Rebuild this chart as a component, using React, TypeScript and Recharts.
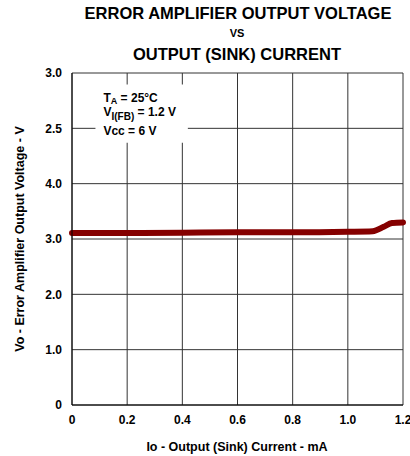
import { LineChart, Line, XAxis, YAxis, CartesianGrid, ReferenceArea } from 'recharts';

// x: output (sink) current, mA
const currentMa = [0, 0.2, 0.4, 0.6, 0.8, 1.0, 1.09, 1.13, 1.16, 1.2];
// y: position on the voltage axis (grid rows as printed)
const outputVolt = [3.11, 3.11, 3.115, 3.12, 3.12, 3.13, 3.14, 3.22, 3.29, 3.3];

const xTicks = [0, 0.2, 0.4, 0.6, 0.8, 1.0, 1.2];
const yTicks = [0, 1, 2, 3, 4, 5, 6];
const yTickLabels = ['0', '1.0', '2.0', '3.0', '4.0', '2.5', '3.0'];

const data = currentMa.map((x, i) => ({ x, v: outputVolt[i] }));

const FONT = '"Liberation Sans", Arial, sans-serif';

function NoteLabel(props: any) {
  const vb = props.viewBox || {};
  const x = vb.x + 8;
  const y = vb.y;
  return (
    <g fontFamily={FONT} fontWeight="bold" fontSize={12} fill="#000">
      <text x={x} y={y + 17}>
        T<tspan fontSize={9} dy={2}>A</tspan>
        <tspan dy={-2}> = 25°C</tspan>
      </text>
      <text x={x} y={y + 31}>
        V<tspan fontSize={10} dy={4}>I(FB)</tspan>
        <tspan dy={-4}> = 1.2 V</tspan>
      </text>
      <text x={x} y={y + 50}>Vcc = 6 V</text>
    </g>
  );
}

export default function App() {
  const tickStyle = { fontFamily: FONT, fontWeight: 'bold' as const, fontSize: 12, fill: '#000' };
  return (
    <div style={{ position: 'absolute', left: 0, top: 0, width: 410, height: 456, background: '#fff' }}>
      <LineChart width={410} height={456} data={data} margin={{ top: 73, right: 7, bottom: 1, left: 32 }}>
        <CartesianGrid stroke="#333" strokeWidth={1} />
        <XAxis
          dataKey="x"
          type="number"
          domain={[0, 1.2]}
          ticks={xTicks}
          interval={0}
          tickFormatter={(v: number) => (v === 0 ? '0' : v.toFixed(1))}
          tick={tickStyle}
          tickLine={false}
          axisLine={{ stroke: '#000' }}
          tickMargin={4}
          height={50}
        />
        <YAxis
          type="number"
          domain={[0, 6]}
          ticks={yTicks}
          interval={0}
          tickFormatter={(v: number) => yTickLabels[v]}
          tick={tickStyle}
          tickLine={false}
          axisLine={{ stroke: '#000' }}
          tickMargin={4}
          width={40}
        />
        <ReferenceArea
          x1={0.085}
          x2={0.42}
          y1={4.74}
          y2={5.79}
          fill="#fff"
          fillOpacity={1}
          stroke="none"
          label={<NoteLabel />}
          ifOverflow="visible"
        />
        <Line
          type="monotone"
          dataKey="v"
          stroke="#850000"
          strokeWidth={6}
          strokeLinecap="round"
          dot={false}
          isAnimationActive={false}
        />
      </LineChart>
      <svg width={410} height={456} style={{ position: 'absolute', left: 0, top: 0, pointerEvents: 'none' }}>
        <g fontFamily={FONT} fontWeight="bold" fill="#000" textAnchor="middle">
          <text x={238} y={19} fontSize={16.5}>ERROR AMPLIFIER OUTPUT VOLTAGE</text>
          <text x={237} y={37} fontSize={11}>VS</text>
          <text x={237} y={60} fontSize={16.5}>OUTPUT (SINK) CURRENT</text>
          <text x={237} y={451} fontSize={12.5}>Io - Output (Sink) Current - mA</text>
          <text x={24} y={239} fontSize={12.5} transform="rotate(-90 24 239)">Vo - Error Amplifier Output Voltage - V</text>
        </g>
      </svg>
    </div>
  );
}
